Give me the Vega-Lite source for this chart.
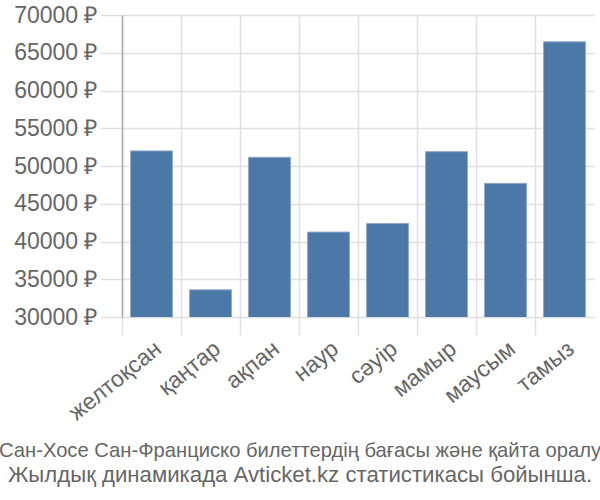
{
  "$schema": "https://vega.github.io/schema/vega-lite/v6.json",
  "autosize": "none",
  "width": 472,
  "height": 302,
  "padding": {"left": 122, "top": 15, "right": 6, "bottom": 183},
  "background": "white",
  "data": {
    "values": [
      {"month": "желтоқсан", "price": 52000},
      {"month": "қаңтар", "price": 33600},
      {"month": "ақпан", "price": 51150},
      {"month": "наур", "price": 41250},
      {"month": "сәуір", "price": 42400},
      {"month": "мамыр", "price": 51900},
      {"month": "маусым", "price": 47700},
      {"month": "тамыз", "price": 66450}
    ]
  },
  "title": {
    "text": "Сан-Хосе Сан-Франциско билеттердің бағасы және қайта оралу",
    "subtitle": "Жылдық динамикада Avticket.kz статистикасы бойынша.",
    "orient": "bottom",
    "anchor": "middle",
    "dx": -58,
    "font": "Liberation Sans",
    "fontSize": 20.2,
    "fontWeight": "normal",
    "color": "#666666",
    "subtitleFont": "Liberation Sans",
    "subtitleFontSize": 22.2,
    "subtitleColor": "#666666",
    "subtitlePadding": 3,
    "offset": 16
  },
  "mark": {"type": "bar", "color": "#4c78a8", "stroke": "#8fa9c8", "strokeWidth": 1, "clip": true},
  "encoding": {
    "x": {
      "field": "month",
      "type": "nominal",
      "sort": null,
      "scale": {"paddingInner": 0.29, "paddingOuter": 0.145},
      "axis": {
        "title": null,
        "labelAngle": -39,
        "labelFont": "Liberation Sans",
        "labelFontSize": 23,
        "labelColor": "#666666",
        "bandPosition": -0.204,
        "grid": true,
        "gridColor": "#e0e0e0",
        "gridWidth": 1.5,
        "tickColor": "#e0e0e0",
        "tickWidth": 1.5,
        "tickSize": 18,
        "domainColor": "#dddddd",
        "labelPadding": 2
      }
    },
    "y": {
      "field": "price",
      "type": "quantitative",
      "scale": {"domain": [30000, 70000], "nice": false, "zero": false},
      "axis": {
        "title": null,
        "values": [30000, 35000, 40000, 45000, 50000, 55000, 60000, 65000, 70000],
        "labelExpr": "datum.value + ' ₽'",
        "labelFont": "Liberation Sans",
        "labelFontSize": 23,
        "labelColor": "#666666",
        "grid": true,
        "gridColor": "#e0e0e0",
        "gridWidth": 1.5,
        "tickColor": "#e0e0e0",
        "tickWidth": 1.5,
        "tickSize": 22,
        "domainColor": "#aaaaaa",
        "domainWidth": 1.5,
        "labelPadding": 3
      }
    }
  },
  "config": {"view": {"stroke": null}}
}
